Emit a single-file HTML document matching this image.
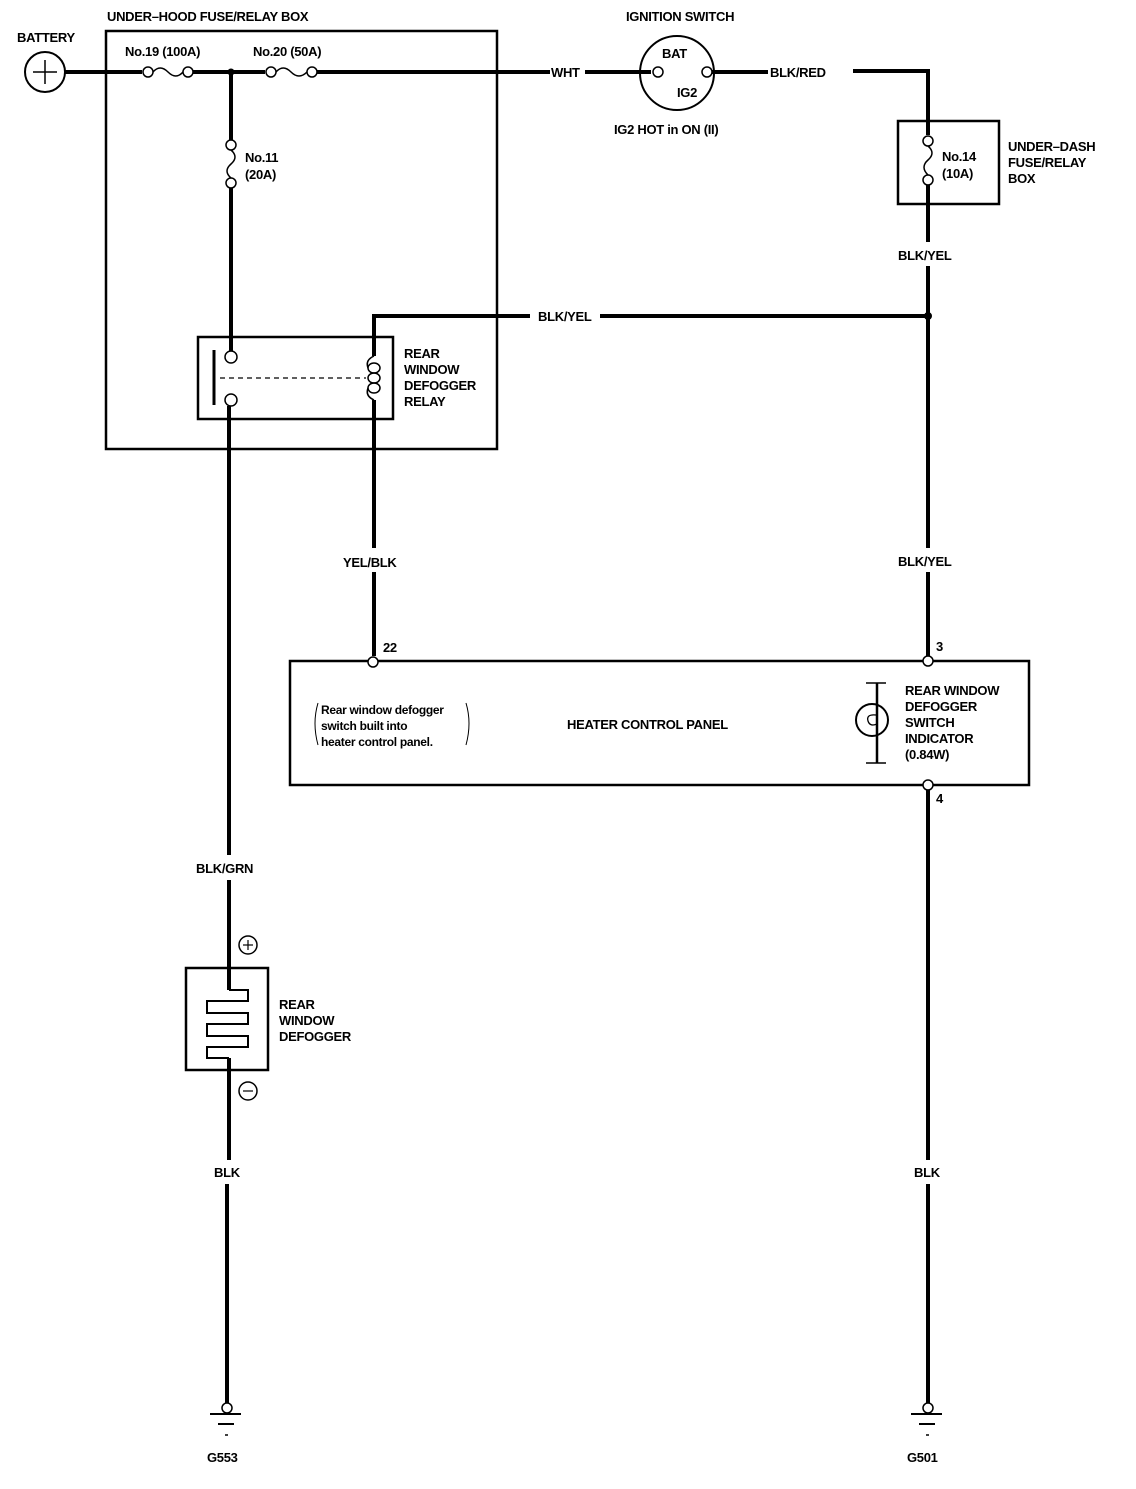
<!DOCTYPE html>
<html><head><meta charset="utf-8"><style>
html,body{margin:0;padding:0;background:#fff}
svg text{font-family:"Liberation Sans",sans-serif;font-weight:bold;font-size:13px;fill:#000;letter-spacing:-0.3px}
</style></head><body>
<svg width="1136" height="1484" viewBox="0 0 1136 1484" xmlns="http://www.w3.org/2000/svg">
<g fill="none" stroke="#000">
<circle cx="45" cy="72" r="20" stroke-width="2"/>
<line x1="33" y1="72" x2="57" y2="72" stroke-width="1.5"/>
<line x1="45" y1="60" x2="45" y2="84" stroke-width="1.5"/>
<rect x="106" y="31" width="391" height="418" stroke-width="2.5"/>
<line x1="65" y1="72" x2="142" y2="72" stroke-width="4"/>
<circle cx="148" cy="72" r="5" stroke-width="1.5"/>
<path d="M153 72 Q160 64 168 72 T183 72" stroke-width="1.5"/>
<circle cx="188" cy="72" r="5" stroke-width="1.5"/>
<line x1="193" y1="72" x2="265" y2="72" stroke-width="4"/>
<circle cx="271" cy="72" r="5" stroke-width="1.5"/>
<path d="M276 72 Q283 64 291 72 T307 72" stroke-width="1.5"/>
<circle cx="312" cy="72" r="5" stroke-width="1.5"/>
<line x1="317" y1="72" x2="550" y2="72" stroke-width="4"/>
<line x1="585" y1="72" x2="651" y2="72" stroke-width="4"/>
<circle cx="677" cy="73" r="37" stroke-width="2"/>
<circle cx="658" cy="72" r="5" stroke-width="1.5"/>
<circle cx="707" cy="72" r="5" stroke-width="1.5"/>
<line x1="712" y1="72" x2="768" y2="72" stroke-width="4"/>
<polyline points="853,71 928,71 928,135" stroke-width="4"/>
<rect x="898" y="121" width="101" height="83" stroke-width="2.5"/>
<circle cx="928" cy="141" r="5" stroke-width="1.5"/>
<path d="M928 146 Q936 153 928 160 Q920 167 928 175" stroke-width="1.5"/>
<circle cx="928" cy="180" r="5" stroke-width="1.5"/>
<line x1="928" y1="185" x2="928" y2="242" stroke-width="4"/>
<line x1="928" y1="266" x2="928" y2="548" stroke-width="4"/>
<line x1="928" y1="572" x2="928" y2="656" stroke-width="4"/>
<circle cx="928" cy="316" r="3.5" fill="#000" stroke-width="1"/>
<line x1="600" y1="316" x2="928" y2="316" stroke-width="4"/>
<polyline points="530,316 374,316 374,356" stroke-width="4"/>
<rect x="198" y="337" width="195" height="82" stroke-width="2.5"/>
<line x1="214" y1="350" x2="214" y2="405" stroke-width="3"/>
<line x1="220" y1="378" x2="366" y2="378" stroke-width="1.2" stroke-dasharray="5,4"/>
<path d="M374 356 Q365 360 368 368 M374 400 Q365 396 368 388" stroke-width="1.5"/>
<ellipse cx="374" cy="368" rx="6" ry="5" stroke-width="1.5"/>
<ellipse cx="374" cy="378" rx="6" ry="5" stroke-width="1.5"/>
<ellipse cx="374" cy="388" rx="6" ry="5" stroke-width="1.5"/>
<line x1="374" y1="400" x2="374" y2="548" stroke-width="4"/>
<line x1="374" y1="572" x2="374" y2="656" stroke-width="4"/>
<line x1="231" y1="72" x2="231" y2="140" stroke-width="4"/>
<circle cx="231" cy="72" r="3" fill="#000"/>
<circle cx="231" cy="145" r="5" stroke-width="1.5"/>
<path d="M231 150 Q239 157 231 164 Q223 171 231 178" stroke-width="1.5"/>
<circle cx="231" cy="183" r="5" stroke-width="1.5"/>
<line x1="231" y1="188" x2="231" y2="351" stroke-width="4"/>
<circle cx="231" cy="357" r="6" stroke-width="1.5"/>
<circle cx="231" cy="400" r="6" stroke-width="1.5"/>
<line x1="229" y1="406" x2="229" y2="855" stroke-width="4"/>
<line x1="229" y1="880" x2="229" y2="990" stroke-width="4"/>
<circle cx="248" cy="945" r="9" stroke-width="1.5"/>
<line x1="243" y1="945" x2="253" y2="945" stroke-width="1.2"/>
<line x1="248" y1="940" x2="248" y2="950" stroke-width="1.2"/>
<rect x="186" y="968" width="82" height="102" stroke-width="2.5"/>
<path d="M229 990 H248 V1001 H207 V1013 H248 V1024 H207 V1036 H248 V1047 H207 V1058 H229" stroke-width="2"/>
<line x1="229" y1="1058" x2="229" y2="1160" stroke-width="4"/>
<circle cx="248" cy="1091" r="9" stroke-width="1.5"/>
<line x1="243" y1="1091" x2="253" y2="1091" stroke-width="1.2"/>
<line x1="227" y1="1184" x2="227" y2="1403" stroke-width="4"/>
<circle cx="227" cy="1408" r="5" stroke-width="1.5"/>
<line x1="210" y1="1414" x2="241" y2="1414" stroke-width="2"/>
<line x1="218" y1="1424" x2="234" y2="1424" stroke-width="2"/>
<line x1="225" y1="1435" x2="228" y2="1435" stroke-width="1.5"/>
<rect x="290" y="661" width="739" height="124" stroke-width="2.5"/>
<circle cx="373" cy="662" r="5" fill="#fff" stroke-width="1.5"/>
<circle cx="928" cy="661" r="5" fill="#fff" stroke-width="1.5"/>
<circle cx="928" cy="785" r="5" fill="#fff" stroke-width="1.5"/>
<path d="M318 703 Q312 723 318 745 M466 703 Q472 723 466 745" stroke-width="1"/>
<line x1="877" y1="683" x2="877" y2="763" stroke-width="2.5"/>
<line x1="866" y1="683" x2="886" y2="683" stroke-width="1.5"/>
<line x1="866" y1="763" x2="886" y2="763" stroke-width="1.5"/>
<circle cx="872" cy="720" r="16" stroke-width="2"/>
<path d="M876 715 Q866 714 868 721 Q870 727 877 724" stroke-width="1.3"/>
<line x1="928" y1="790" x2="928" y2="1160" stroke-width="4"/>
<line x1="928" y1="1184" x2="928" y2="1403" stroke-width="4"/>
<circle cx="928" cy="1408" r="5" stroke-width="1.5"/>
<line x1="911" y1="1414" x2="942" y2="1414" stroke-width="2"/>
<line x1="919" y1="1424" x2="935" y2="1424" stroke-width="2"/>
<line x1="926" y1="1435" x2="929" y2="1435" stroke-width="1.5"/>
</g>
<text x="107" y="21">UNDER–HOOD FUSE/RELAY BOX</text>
<text x="17" y="42">BATTERY</text>
<text x="125" y="56">No.19 (100A)</text>
<text x="253" y="56">No.20 (50A)</text>
<text x="245" y="162">No.11</text>
<text x="245" y="179">(20A)</text>
<text x="404" y="358">REAR</text>
<text x="404" y="374">WINDOW</text>
<text x="404" y="390">DEFOGGER</text>
<text x="404" y="406">RELAY</text>
<text x="551" y="77">WHT</text>
<text x="626" y="21">IGNITION SWITCH</text>
<text x="662" y="58">BAT</text>
<text x="677" y="97">IG2</text>
<text x="614" y="134">IG2 HOT in ON (II)</text>
<text x="770" y="77">BLK/RED</text>
<text x="942" y="161">No.14</text>
<text x="942" y="178">(10A)</text>
<text x="1008" y="151">UNDER–DASH</text>
<text x="1008" y="167">FUSE/RELAY</text>
<text x="1008" y="183">BOX</text>
<text x="898" y="260">BLK/YEL</text>
<text x="538" y="321">BLK/YEL</text>
<text x="343" y="567">YEL/BLK</text>
<text x="898" y="566">BLK/YEL</text>
<text x="383" y="652">22</text>
<text x="936" y="651">3</text>
<text x="936" y="803">4</text>
<text x="321" y="714" style="font-size:12px">Rear window defogger</text>
<text x="321" y="730" style="font-size:12px">switch built into</text>
<text x="321" y="746" style="font-size:12px">heater control panel.</text>
<text x="567" y="729">HEATER CONTROL PANEL</text>
<text x="905" y="695">REAR WINDOW</text>
<text x="905" y="711">DEFOGGER</text>
<text x="905" y="727">SWITCH</text>
<text x="905" y="743">INDICATOR</text>
<text x="905" y="759">(0.84W)</text>
<text x="196" y="873">BLK/GRN</text>
<text x="279" y="1009">REAR</text>
<text x="279" y="1025">WINDOW</text>
<text x="279" y="1041">DEFOGGER</text>
<text x="214" y="1177">BLK</text>
<text x="914" y="1177">BLK</text>
<text x="207" y="1462">G553</text>
<text x="907" y="1462">G501</text>
</svg>
</body></html>
